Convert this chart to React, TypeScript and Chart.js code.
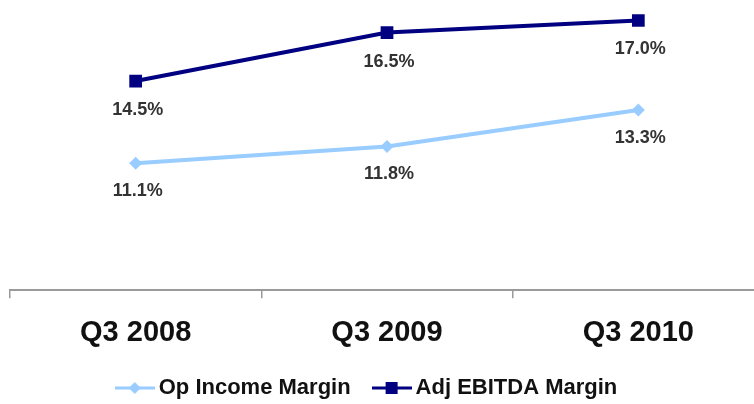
import React, { useEffect, useRef } from "react";
import { Chart, registerables } from "chart.js";

Chart.register(...registerables);

const categories = ["Q3 2008", "Q3 2009", "Q3 2010"];
const opIncomeMargin = [11.1, 11.8, 13.3];
const adjEbitdaMargin = [14.5, 16.5, 17.0];
const seriesNames = ["Op Income Margin", "Adj EBITDA Margin"];
const yMin = 5.86;
const yMax = 17.64;

const FONT = "'Liberation Sans', Arial, Helvetica, sans-serif";
const LIGHT = "#99CCFF";
const NAVY = "#000080";

function legendImage(color: string, style: "diamond" | "square") {
  const c = document.createElement("canvas");
  c.width = 40;
  c.height = 16;
  const ctx = c.getContext("2d") as CanvasRenderingContext2D;
  ctx.strokeStyle = color;
  ctx.lineWidth = 3;
  ctx.beginPath();
  ctx.moveTo(0, 8);
  ctx.lineTo(40, 8);
  ctx.stroke();
  ctx.fillStyle = color;
  if (style === "diamond") {
    ctx.beginPath();
    ctx.moveTo(20, 2);
    ctx.lineTo(26, 8);
    ctx.lineTo(20, 14);
    ctx.lineTo(14, 8);
    ctx.closePath();
    ctx.fill();
  } else {
    ctx.fillRect(14, 2, 12, 12);
  }
  return c;
}

const dataLabelPlugin = {
  id: "dataLabels",
  afterDatasetsDraw(chart: any) {
    const ctx = chart.ctx;
    ctx.save();
    ctx.font = `bold 18px ${FONT}`;
    ctx.fillStyle = "#333333";
    ctx.textAlign = "center";
    ctx.textBaseline = "middle";
    chart.data.datasets.forEach((ds: any, di: number) => {
      const meta = chart.getDatasetMeta(di);
      meta.data.forEach((pt: any, i: number) => {
        ctx.fillText(ds.data[i].toFixed(1) + "%", pt.x + 2, pt.y + ds.labelOffset);
      });
    });
    ctx.restore();
  },
};

const legendShiftPlugin = {
  id: "legendShift",
  afterLayout(chart: any) {
    const l = chart.legend;
    if (!l) return;
    l.left -= 17.5;
    l.right -= 17.5;
  },
};

export default function App() {
  const ref = useRef<HTMLCanvasElement | null>(null);

  useEffect(() => {
    if (!ref.current) return;
    const images = [legendImage(LIGHT, "diamond"), legendImage(NAVY, "square")];
    const chart = new Chart(ref.current, {
      type: "line",
      data: {
        labels: categories,
        datasets: [
          {
            label: seriesNames[0],
            data: opIncomeMargin,
            borderColor: LIGHT,
            backgroundColor: LIGHT,
            borderWidth: 4,
            pointStyle: "rectRot",
            pointRadius: 6.5,
            pointBorderWidth: 0,
            pointBackgroundColor: LIGHT,
            labelOffset: 28,
          } as any,
          {
            label: seriesNames[1],
            data: adjEbitdaMargin,
            borderColor: NAVY,
            backgroundColor: NAVY,
            borderWidth: 4,
            pointStyle: "rect",
            pointRadius: 9,
            pointBorderWidth: 0,
            pointBackgroundColor: NAVY,
            labelOffset: 29,
          } as any,
        ],
      },
      options: {
        animation: false,
        responsive: false,
        maintainAspectRatio: false,
        layout: { autoPadding: false, padding: { top: 5, left: 10, right: 16, bottom: -5 } },
        plugins: {
          tooltip: { enabled: false },
          legend: {
            display: true,
            position: "bottom",
            labels: {
              usePointStyle: true,
              pointStyleWidth: 26,
              padding: 28,
              color: "#111111",
              font: { family: FONT, size: 22, weight: "bold" },
              generateLabels: () =>
                seriesNames.map((name, i) => ({
                  text: name,
                  pointStyle: images[i] as any,
                  fillStyle: "transparent",
                  strokeStyle: "transparent",
                  lineWidth: 0,
                  hidden: false,
                  datasetIndex: i,
                  fontColor: "#111111",
                })),
            },
          },
        },
        scales: {
          x: {
            offset: true,
            border: { display: true, color: "#9a9a9a", width: 2 },
            grid: {
              display: true,
              drawOnChartArea: false,
              drawTicks: true,
              tickLength: 8,
              color: "#9a9a9a",
              lineWidth: 1.5,
              offset: true,
            },
            ticks: {
              color: "#111111",
              padding: 17,
              maxRotation: 0,
              font: { family: FONT, size: 29, weight: "bold" },
            },
            afterFit: (scale: any) => {
              scale.height -= 18;
            },
          },
          y: {
            display: false,
            min: yMin,
            max: yMax,
          },
        },
      },
      plugins: [dataLabelPlugin, legendShiftPlugin],
    });
    return () => chart.destroy();
  }, []);

  return (
    <div
      style={{
        position: "fixed",
        left: 0,
        top: 0,
        width: 754,
        height: 404,
        overflow: "hidden",
        background: "#ffffff",
      }}
    >
      <canvas ref={ref} width={780} height={404} style={{ display: "block" }} />
    </div>
  );
}
